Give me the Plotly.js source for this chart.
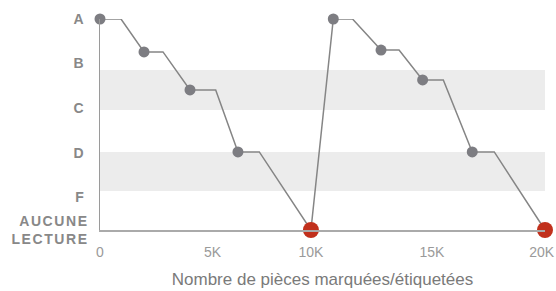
<!DOCTYPE html>
<html><head><meta charset="utf-8">
<script src="https://cdn.plot.ly/plotly-3.0.1.min.js"></script>
<style>html,body{margin:0;padding:0;background:#fff}</style>
</head><body><div id="chart" style="width:556px;height:291px"></div>
<script>
// Path of the reading score versus number of tagged parts
const pathX = [0, 944, 1978, 2831, 4045, 5200, 6200, 7160, 9480, 10485, 11350, 12630, 13440, 14500, 15430, 16730, 17720, 20000];
const pathY = [100, 100, 84.4, 84.4, 66.4, 66.4, 37, 37, 0, 100, 100, 85.3, 85.3, 71.1, 71.1, 37, 37, 0];
const pointKind = ['grade','corner','grade','corner','grade','corner','grade','corner','none','grade','corner','grade','corner','grade','corner','grade','corner','none'];

// Axis labels
const yTickPos = [100, 79, 58, 36.5, 15.6, 0];
const yTickText = ['A', 'B', 'C', 'D', 'F', 'AUCUNE<br>LECTURE'];
const xTickPos = [0, 5060, 9480, 14920, 19850];
const xTickText = ['0', '5K', '10K', '15K', '20K'];
const xTitle = 'Nombre de pièces marquées/étiquetées';

// Shaded grade bands [low, high]
const bands = [[56.9, 75.8], [18.5, 37]];

const FONT = 'Liberation Sans, Arial, sans-serif';
const sizes = pointKind.map(k => k === 'grade' ? 11 : (k === 'none' ? 16 : 0));
const colors = pointKind.map(k => k === 'none' ? '#c1301c' : '#7d7d82');

const trace = {
  x: pathX, y: pathY, type: 'scatter', mode: 'lines+markers',
  line: {color: '#858585', width: 1.5},
  marker: {size: sizes, color: colors, line: {width: 0}, opacity: 1},
  cliponaxis: false, hoverinfo: 'skip'
};

const shapes = bands.map(b => ({
  type: 'rect', xref: 'paper', yref: 'y', x0: 0, x1: 1, y0: b[0], y1: b[1],
  fillcolor: '#ececec', line: {width: 0}, layer: 'below'
}));

const layout = {
  width: 556, height: 291,
  margin: {l: 100, r: 11, t: 19, b: 61, pad: 0},
  paper_bgcolor: '#fff', plot_bgcolor: '#fff',
  showlegend: false,
  shapes: shapes,
  xaxis: {
    range: [0, 20000], showgrid: false, zeroline: false,
    showline: true, linecolor: '#aaaaaa', linewidth: 2,
    tickmode: 'array', tickvals: xTickPos, ticktext: xTickText, ticks: '',
    ticklabelstandoff: 8, ticklabeloverflow: 'allow',
    tickfont: {family: FONT, size: 14, color: '#9a9a9a'},
    title: {text: xTitle, font: {family: FONT, size: 17, color: '#7a7a7a'}, standoff: 14},
    fixedrange: true
  },
  yaxis: {
    range: [0, 100], showgrid: false, zeroline: false,
    showline: true, linecolor: '#9a9a9a', linewidth: 1.5,
    tickmode: 'array', tickvals: yTickPos, ticktext: yTickText, ticks: '',
    ticklabelstandoff: 12,
    tickfont: {family: FONT, size: 14, color: '#888888', weight: 'bold'},
    fixedrange: true
  }
};

Plotly.newPlot('chart', [trace], layout, {displayModeBar: false, staticPlot: true}).then(gd => {
  gd.querySelectorAll('.ytick text').forEach(t => {
    if (t.textContent.indexOf('AUCUNE') >= 0) {
      t.style.letterSpacing = '1.6px';
      const els = [t].concat(Array.from(t.querySelectorAll('tspan')));
      els.forEach(el => {
        const xv = el.getAttribute('x');
        if (xv !== null && xv !== '') el.setAttribute('x', parseFloat(xv) + 5);
      });
    }
  });
});
</script>
</body></html>
